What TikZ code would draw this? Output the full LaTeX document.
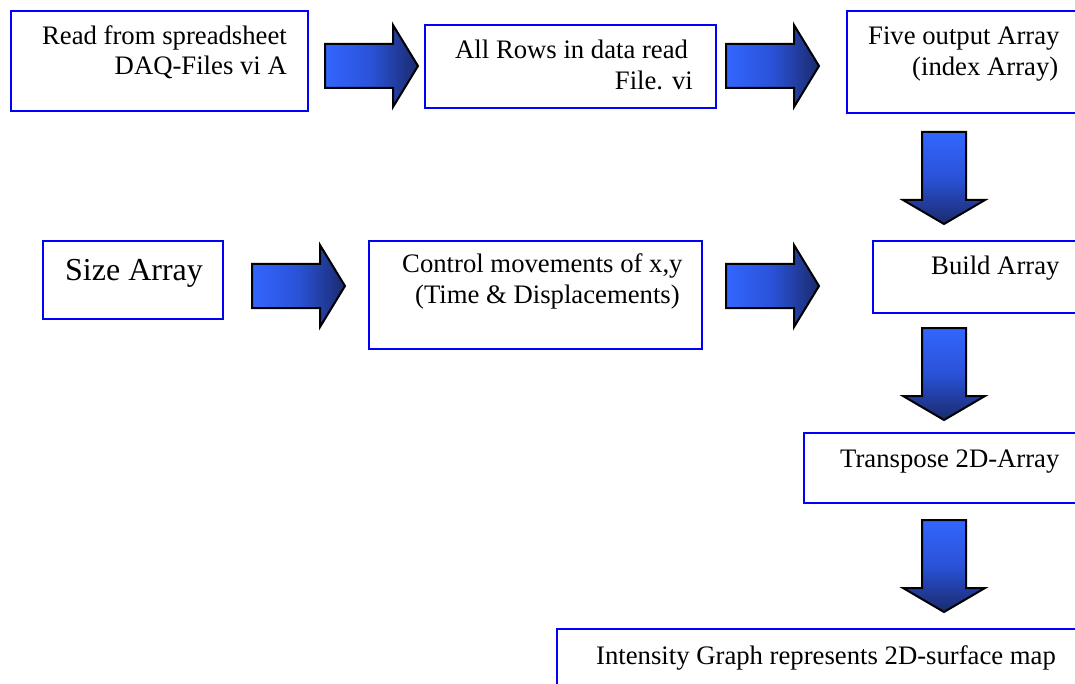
\documentclass[tikz,border=0pt]{standalone}
\usepackage{fontspec}
\setmainfont{Liberation Serif}
\definecolor{boxblue}{RGB}{0,0,255}
\definecolor{lb}{RGB}{51,102,255}
\definecolor{mb}{RGB}{42,82,215}
\definecolor{db}{RGB}{26,42,108}
\tikzset{
  box/.style={draw=boxblue, line width=1.9pt, inner sep=0pt, anchor=north west, fill=white},
  txt/.style={font=\fontsize{26.7}{30}\selectfont, inner sep=0pt},
  bigtxt/.style={font=\fontsize{32}{36}\selectfont, inner sep=0pt},
  arrowline/.style={draw=black, line width=2pt, line join=miter},
  rarrow/.pic={\path[arrowline, left color=lb, right color=db, middle color=mb]
      (0,-22) -- (68,-22) -- (68,-41) -- (93,0) -- (68,41) -- (68,22) -- (0,22) -- cycle;},
  darrow/.pic={\path[arrowline, top color=lb, bottom color=db, middle color=mb]
      (-22,0) -- (-22,68) -- (-41,68) -- (0,92) -- (41,68) -- (22,68) -- (22,0) -- cycle;}
}
\begin{document}
\begin{tikzpicture}[x=1pt,y=-1pt]
\clip (0,0) rectangle (1075,684);
\fill[white] (0,0) rectangle (1075,684);
% boxes
\node[box, minimum width=297pt, minimum height=100pt] (b1) at (10,10) {};
\node[box, minimum width=291pt, minimum height=83pt] (b2) at (424,24) {};
\node[box, minimum width=300pt, minimum height=102pt] (b3) at (846,10) {};
\node[box, minimum width=300pt, minimum height=72pt] (b4) at (872,240) {};
\node[box, minimum width=180pt, minimum height=78pt] (b5) at (42,240) {};
\node[box, minimum width=333pt, minimum height=108pt] (b6) at (368,240) {};
\node[box, minimum width=300pt, minimum height=70pt] (b7) at (803,432) {};
\node[box, minimum width=600pt, minimum height=100pt] (b8) at (556,628) {};
% texts
\node[txt, anchor=base east] (t1a) at (287,45) {Read from spreadsheet};
\node[txt, anchor=base east] (t1b) at (287,75) {DAQ-Files vi A};
\node[txt, anchor=base west] (t2a) at (455,59) {All Rows in data read};
\node[txt, anchor=base east] (t2b) at (693,90) {File. vi};
\node[txt, anchor=base west] (t3a) at (868,45) {Five output Array};
\node[txt, anchor=base west] (t3b) at (912,76) {(index Array)};
\node[txt, anchor=base west] (t4) at (931,275) {Build Array};
\node[bigtxt, anchor=base west] (t5) at (65,281) {Size Array};
\node[txt, anchor=base west] (t6a) at (402,273) {Control movements of x,y};
\node[txt, anchor=base west] (t6b) at (415,304) {(Time \& Displacements)};
\node[txt, anchor=base west] (t7) at (840,467) {Transpose 2D-Array};
\node[txt, anchor=base west] (t8) at (596,664) {Intensity Graph represents 2D-surface map};
% block arrows
\pic (a1) at (325,66) {rarrow};
\pic (a2) at (726,66) {rarrow};
\pic (a3) at (252,286) {rarrow};
\pic (a4) at (726,286) {rarrow};
\pic (a5) at (944,132) {darrow};
\pic (a6) at (944,328) {darrow};
\pic (a7) at (944,520) {darrow};
\end{tikzpicture}
\end{document}
